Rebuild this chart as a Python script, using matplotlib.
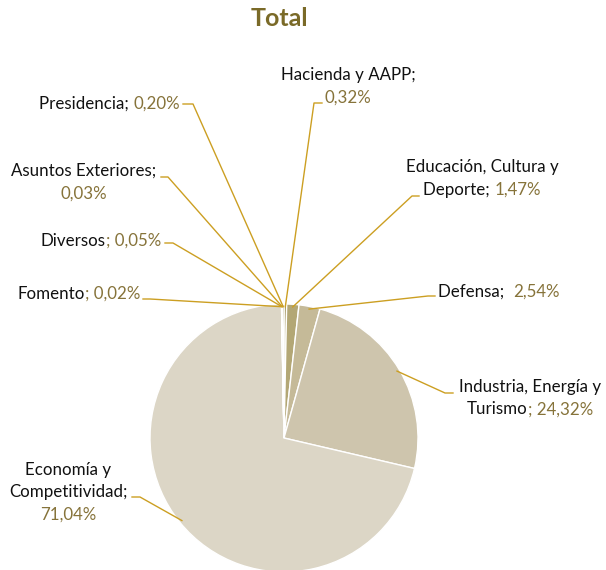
import numpy as np
import matplotlib
matplotlib.use("Agg")
import matplotlib.pyplot as plt
from matplotlib.lines import Line2D

plt.rcParams['font.family'] = ['Lato', 'DejaVu Sans']

# data (clockwise from 12 o'clock)
names = ["Hacienda y AAPP", "Educación, Cultura y Deporte", "Defensa",
         "Industria, Energía y Turismo", "Economía y Competitividad",
         "Fomento", "Diversos", "Asuntos Exteriores", "Presidencia"]
values = [0.32, 1.47, 2.54, 24.32, 71.04, 0.02, 0.05, 0.03, 0.20]

# label text layout: '\n' = line break, '|' toggles black/olive
label_tpl = ["Hacienda y AAPP;\n|{v}", "Educación, Cultura y\nDeporte; |{v}",
             "Defensa;  |{v}", "Industria, Energía y\nTurismo|; {v}",
             "Economía y\nCompetitividad;\n|{v}", "Fomento|; {v}",
             "Diversos|; {v}", "Asuntos Exteriores;\n|{v}", "Presidencia; |{v}"]

colors = ["#9a8a4e", "#b3a775", "#c5ba98", "#cec5ad", "#dcd6c6",
          "#8a7a3a", "#8a7a3a", "#8a7a3a", "#8a7a3a"]

W, H = 606, 570
# label anchor (image px): x, first line center y, alignment
lab_pos = [(348, 75, 'center'), (482, 167, 'center'), (438, 292, 'left'),
           (530, 387, 'center'), (68, 470, 'center'), (140, 294, 'right'),
           (161, 241, 'right'), (84, 171, 'center'), (180, 104, 'right')]
# leader line elbow and end (image px)
leader = [((314, 103), (322, 103)), ((412, 196), (419, 196)),
          ((428, 296), (435, 296)), ((445, 393), (453, 393)),
          ((140, 497), (132, 497)), ((150, 299), (143, 299)),
          ((173, 243), (165, 243)), ((168, 177), (161, 177)),
          ((193, 104), (183, 104))]

BLACK = "#111111"
OLIVE = "#86733a"
LINE = "#cc9f22"
FS = 12.2
LINE_H = 22.5

fig = plt.figure(figsize=(W / 100, H / 100), dpi=100)
cx, cy, r = 284, 438, 134
ax = fig.add_axes([(cx - r) / W, (H - cy - r) / H, 2 * r / W, 2 * r / H])
ax.pie(values, colors=colors, startangle=90, counterclock=False, radius=1,
       wedgeprops=dict(edgecolor='white', linewidth=1.0))
ax.set_xlim(-1, 1)
ax.set_ylim(-1, 1)
ax.set_aspect('equal')
ax.axis('off')

fig.text(279 / W, 1 - 19 / H, "Total", ha='center', va='center',
         fontsize=18, fontweight='bold', color="#7a6a28")

renderer = fig.canvas.get_renderer()


def draw_label(tpl, x, y, align):
    olive = False
    for i, line in enumerate(tpl.split("\n")):
        segs = []
        for j, part in enumerate(line.split("|")):
            if j > 0:
                olive = not olive
            if part:
                segs.append((part, OLIVE if olive else BLACK))
        texts = []
        for s, c in segs:
            t = fig.text(0, 0, s, fontsize=FS, color=c, ha='left',
                         va='baseline', transform=None)
            texts.append(t)
        widths = [t.get_window_extent(renderer).width for t in texts]
        total = sum(widths)
        if align == 'center':
            x0 = x - total / 2
        elif align == 'right':
            x0 = x - total
        else:
            x0 = x
        base = H - (y + i * LINE_H + 5)
        for t, w in zip(texts, widths):
            t.set_position((x0, base))
            x0 += w


cum = 0.0
tot = sum(values)
for k, v in enumerate(values):
    mid = (cum + v / 2) / tot * 2 * np.pi
    cum += v
    px, py = ax.transData.transform((0.98 * np.sin(mid), 0.98 * np.cos(mid)))
    (ex, ey), (hx, hy) = leader[k]
    xs = [px, ex, hx]
    ys = [py, H - ey, H - hy]
    fig.add_artist(Line2D(xs, ys, color=LINE, lw=1.0, transform=None))
    txt = label_tpl[k].format(v=f"{v:.2f}".replace(".", ",") + "%")
    draw_label(txt, *lab_pos[k])

fig.savefig("out.png", dpi=100)
